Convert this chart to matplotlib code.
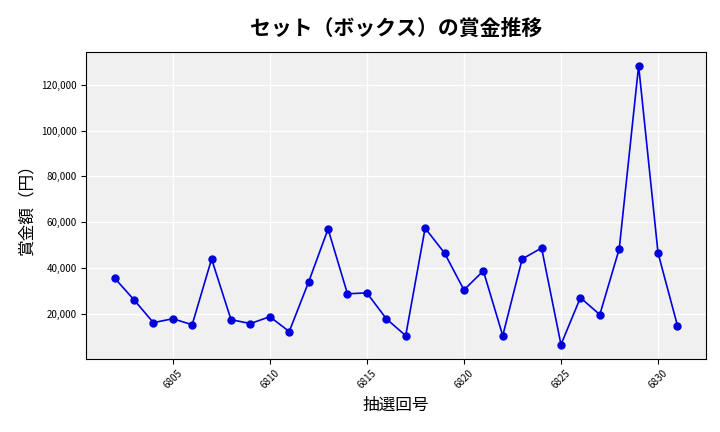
import matplotlib
matplotlib.use("Agg")
import matplotlib.pyplot as plt
from matplotlib.ticker import FuncFormatter

plt.rcParams['font.family'] = ['Noto Sans CJK JP', 'DejaVu Sans']

draws = list(range(6802, 6832))
prizes = [35600, 26100, 16100, 17800, 15200, 43900, 17400, 15700, 18700, 12200,
          33900, 57000, 28700, 29100, 17800, 10400, 57400, 46500, 30400, 38700,
          10400, 43900, 48700, 6500, 27000, 19600, 48300, 128300, 46500, 14800]

fig, ax = plt.subplots(figsize=(7.2, 4.32), dpi=100)
ax.set_facecolor('#f0f0f0')
ax.grid(True, color='white', linewidth=1)
ax.set_axisbelow(True)
ax.plot(draws, prizes, color='#0000dd', marker='o', markersize=5, linewidth=1.2)
ax.set_xticks([6805, 6810, 6815, 6820, 6825, 6830])
ax.tick_params(axis='x', labelrotation=45, labelsize=7)
ax.tick_params(axis='y', labelsize=7)
ax.yaxis.set_major_formatter(FuncFormatter(lambda v, p: f'{int(v):,}'))
ax.set_title('セット（ボックス）の賞金推移', fontsize=15, fontweight='bold', pad=12)
ax.set_xlabel('抽選回号', fontsize=12)
ax.set_ylabel('賞金額（円）', fontsize=12)
fig.subplots_adjust(left=0.12, right=0.98, top=0.88, bottom=0.17)
fig.savefig('out.png')
